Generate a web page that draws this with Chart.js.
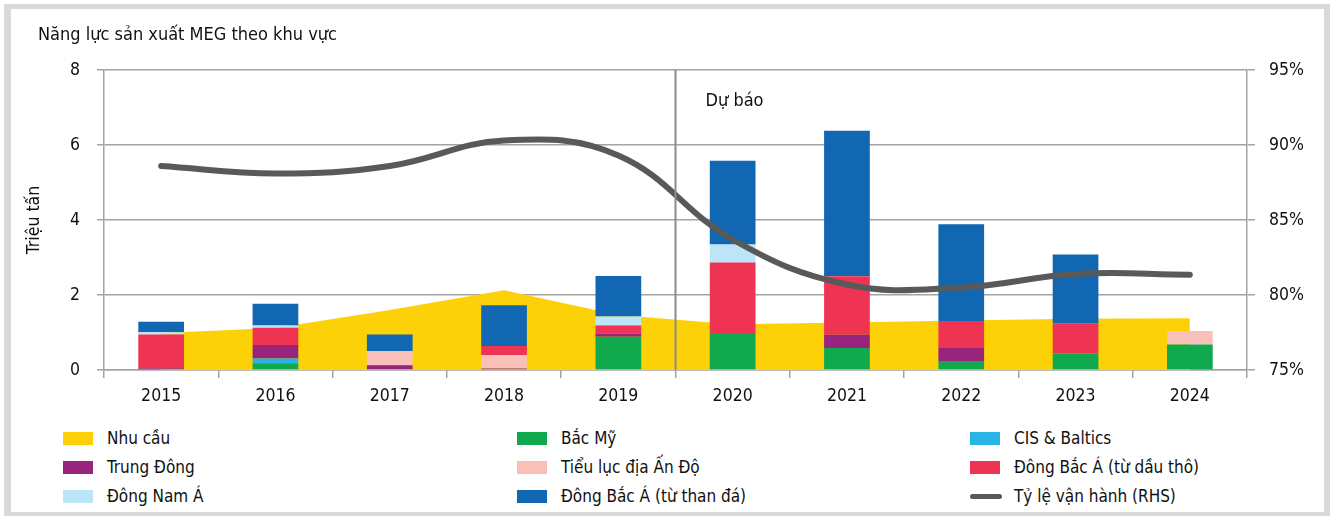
<!DOCTYPE html>
<html>
<head>
<meta charset="utf-8">
<script src="https://cdn.jsdelivr.net/npm/chart.js@4"></script>
<style>
  body { margin: 0; background: #fff; }
  #wrap { position: relative; width: 1335px; height: 520px; overflow: hidden;
          font-family: "Liberation Sans Narrow", "DejaVu Sans Condensed", sans-serif; color: #111; }
  #frame { position: absolute; left: 4px; top: 4px; width: 1313px; height: 503px;
           border-style: solid; border-color: #d9d9d9; border-width: 5px 6px 4px 7px; }
  #chart { position: absolute; left: 0; top: 0; }
  #title { position: absolute; left: 38px; top: 23px; font-size: 18px; white-space: nowrap; }
  #legend { position: absolute; left: 0; top: 0; }
  .item { position: absolute; display: flex; align-items: center; font-size: 17px; height: 20px; white-space: nowrap; }
  .box { width: 30px; height: 13px; margin-right: 14px; flex: none; }
  .dash { width: 32px; height: 5px; border-radius: 3px; margin-right: 12px; flex: none; }
</style>
</head>
<body>
<div id="wrap">
  <div id="frame"></div>
  <canvas id="chart" width="1335" height="420"></canvas>
  <div id="title">Năng lực sản xuất MEG theo khu vực</div>
  <div id="legend"></div>
</div>
<script>
// data
const years = ['2015', '2016', '2017', '2018', '2019', '2020', '2021', '2022', '2023', '2024'];
const demand    = [0.99, 1.12, 1.60, 2.13, 1.47, 1.22, 1.27, 1.32, 1.37, 1.38];
const bacMy     = [0.00, 0.18, 0.00, 0.00, 0.89, 0.99, 0.59, 0.24, 0.44, 0.68];
const cis       = [0.00, 0.13, 0.00, 0.00, 0.00, 0.00, 0.00, 0.00, 0.00, 0.00];
const trungDong = [0.05, 0.36, 0.13, 0.04, 0.08, 0.00, 0.35, 0.35, 0.00, 0.00];
const anDo      = [0.00, 0.00, 0.38, 0.36, 0.00, 0.00, 0.00, 0.00, 0.00, 0.36];
const dbaDau    = [0.90, 0.46, 0.00, 0.24, 0.22, 1.88, 1.56, 0.70, 0.80, 0.00];
const dongNamA  = [0.06, 0.06, 0.00, 0.00, 0.24, 0.48, 0.00, 0.00, 0.00, 0.00];
const dbaThan   = [0.28, 0.58, 0.44, 1.09, 1.08, 2.23, 3.88, 2.60, 1.84, 0.00];
const rate      = [88.6, 88.1, 88.6, 90.3, 89.3, 83.7, 80.7, 80.5, 81.4, 81.35];
const leftTicks = [0, 2, 4, 6, 8];
const rightTicks = [75, 80, 85, 90, 95];
const forecastAfter = 4; // index of last actual year (2019)

const gridColor = '#a3a3a3';
const tickFont = { family: '"Liberation Sans Narrow", "DejaVu Sans Condensed", sans-serif', size: 17.5 };

function bar(label, data, color) {
  return { type: 'bar', label: label, data: data, backgroundColor: color, borderWidth: 0,
           stack: 'cap', order: 1, yAxisID: 'y', barPercentage: 0.4, categoryPercentage: 1 };
}

// vertical "Dự báo" divider
const forecastLine = {
  id: 'forecastLine',
  afterDatasetsDraw(chart) {
    const x = chart.scales.x;
    const area = chart.chartArea;
    const px = (x.getPixelForValue(forecastAfter) + x.getPixelForValue(forecastAfter + 1)) / 2;
    const ctx = chart.ctx;
    ctx.save();
    ctx.strokeStyle = '#8c8c8c';
    ctx.lineWidth = 2;
    ctx.beginPath();
    ctx.moveTo(px, area.top);
    ctx.lineTo(px, area.bottom);
    ctx.stroke();
    ctx.fillStyle = '#111';
    ctx.font = '18px ' + tickFont.family;
    ctx.textBaseline = 'middle';
    ctx.fillText('Dự báo', px + 30, area.top + 31);
    ctx.restore();
  }
};

const chart = new Chart(document.getElementById('chart'), {
  data: {
    labels: years,
    datasets: [
      { type: 'line', label: 'Nhu cầu', data: demand, backgroundColor: '#fdd108', borderColor: '#fdd108',
        borderWidth: 0, pointRadius: 0, fill: 'origin', tension: 0, stack: 'dem', order: 2, yAxisID: 'y' },
      bar('Bắc Mỹ', bacMy, '#10a94e'),
      bar('CIS & Baltics', cis, '#29b3e6'),
      bar('Trung Đông', trungDong, '#97257b'),
      bar('Tiểu lục địa Ấn Độ', anDo, '#f9c0b9'),
      bar('Đông Bắc Á (từ dầu thô)', dbaDau, '#ef3352'),
      bar('Đông Nam Á', dongNamA, '#bde5f8'),
      bar('Đông Bắc Á (từ than đá)', dbaThan, '#1167b1'),
      { type: 'line', label: 'Tỷ lệ vận hành (RHS)', data: rate, borderColor: '#595959', backgroundColor: '#595959',
        borderWidth: 6, pointRadius: 0, tension: 0.4, borderCapStyle: 'round', fill: false, order: 0, yAxisID: 'y1' }
    ]
  },
  options: {
    responsive: false,
    animation: false,
    layout: { padding: { top: 70, left: 0, right: 0, bottom: 0 } },
    plugins: { legend: { display: false }, tooltip: { enabled: false } },
    scales: {
      x: {
        stacked: true,
        offset: true,
        grid: { offset: true, drawOnChartArea: false, drawTicks: true, tickLength: 8, color: gridColor, lineWidth: 1.5 },
        border: { color: gridColor, width: 1.5 },
        ticks: { font: tickFont, color: '#111', padding: 8 },
        afterFit(s) { s.height = 50; }
      },
      y: {
        stacked: true,
        min: 0, max: 8,
        afterBuildTicks(s) { s.ticks = leftTicks.map(v => ({ value: v })); },
        ticks: { font: tickFont, color: '#111', padding: 17 },
        grid: { color: gridColor, lineWidth: 1.5, tickLength: 7 },
        border: { color: gridColor, width: 1.5 },
        title: { display: true, text: 'Triệu tấn', font: tickFont, color: '#111', padding: { top: 24, bottom: 0 } },
        afterFit(s) { s.width = 104; }
      },
      y1: {
        position: 'right',
        min: 75, max: 95,
        afterBuildTicks(s) { s.ticks = rightTicks.map(v => ({ value: v })); },
        ticks: { font: tickFont, color: '#111', padding: 14, callback: v => v + '%' },
        grid: { drawOnChartArea: false, color: gridColor, lineWidth: 1.5, tickLength: 8 },
        border: { color: gridColor, width: 1.5 },
        afterFit(s) { s.width = 88; }
      }
    }
  },
  plugins: [forecastLine]
});

// html legend, 3 columns like the original
const colX = [63, 517, 970];
const rowY = [438, 467, 496];
const legend = document.getElementById('legend');
chart.data.datasets.forEach((ds, i) => {
  const item = document.createElement('div');
  item.className = 'item';
  item.style.left = colX[i % 3] + 'px';
  item.style.top = (rowY[Math.floor(i / 3)] - 10) + 'px';
  const sw = document.createElement('span');
  sw.className = ds.yAxisID === 'y1' ? 'dash' : 'box';
  sw.style.background = ds.yAxisID === 'y1' ? ds.borderColor : ds.backgroundColor;
  item.appendChild(sw);
  item.appendChild(document.createTextNode(ds.label));
  legend.appendChild(item);
});
</script>
</body>
</html>
